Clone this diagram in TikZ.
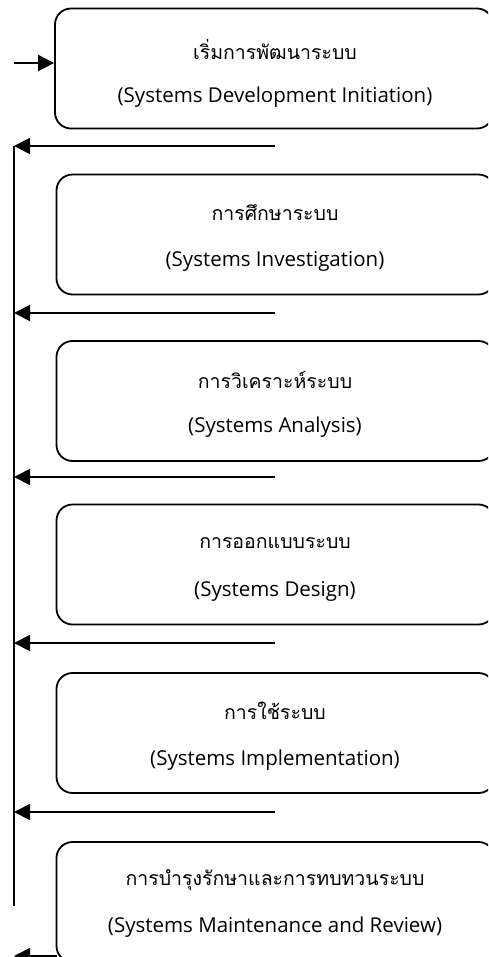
\documentclass[tikz,border=0pt]{standalone}
\usepackage{fontspec}
\setmainfont{Open Sans}
\newfontfamily\thaifont[Script=Thai]{Loma}
\usetikzlibrary{arrows.meta}
\tikzset{
  stagebox/.style={draw, line width=1.8pt, rounded corners=16pt, minimum width=438pt, minimum height=120pt, inner sep=0pt},
  th/.style={font=\thaifont\fontsize{19.5}{22}\selectfont, inner sep=0pt, anchor=center},
  en/.style={font=\fontsize{20.5}{23}\selectfont, inner sep=0pt, anchor=center},
  flow/.style={line width=1.8pt, -{Triangle[length=16pt,width=16pt]}},
  plain/.style={line width=1.8pt}
}
\begin{document}
\begin{tikzpicture}[x=1pt,y=1pt]
\useasboundingbox (0,0) rectangle (488,-957);
\clip (0,0) rectangle (488,-957);
% boxes
\node[stagebox] (b1) at (274,-68.5) {};
\node[stagebox] (b2) at (275.5,-234.5) {};
\node[stagebox] (b3) at (275.5,-401) {};
\node[stagebox] (b4) at (275.5,-564.5) {};
\node[stagebox] (b5) at (275.5,-733) {};
\node[stagebox] (b6) at (275.5,-902) {};
% texts
\node[th] (t1) at (275,-50) {เริ่มการพัฒนาระบบ};
\node[en] (e1) at (275,-97) {(Systems Development Initiation)};
\node[th] (t2) at (275,-213) {การศึกษาระบบ};
\node[en] (e2) at (275,-261) {(Systems Investigation)};
\node[th] (t3) at (275,-380) {การวิเคราะห์ระบบ};
\node[en] (e3) at (275,-427) {(Systems Analysis)};
\node[th] (t4) at (275,-543) {การออกแบบระบบ};
\node[en] (e4) at (275,-591) {(Systems Design)};
\node[th] (t5) at (275,-711) {การใช้ระบบ};
\node[en] (e5) at (275,-760) {(Systems Implementation)};
\node[th] (t6) at (275,-880) {การบำรุงรักษาและการทบทวนระบบ};
\node[en] (e6) at (275,-927) {(Systems Maintenance and Review)};
% coordinates
\coordinate (in) at (14,-63);
\coordinate (vtop) at (14,-146);
\coordinate (vbot) at (14,-906);
\coordinate (r1) at (275,-146);
\coordinate (r2) at (275,-313);
\coordinate (r3) at (275,-477);
\coordinate (r4) at (275,-643);
\coordinate (r5) at (275,-812);
\coordinate (l1) at (14,-146);
\coordinate (l2) at (14,-313);
\coordinate (l3) at (14,-477);
\coordinate (l4) at (14,-643);
\coordinate (l5) at (14,-812);
\coordinate (r6) at (57,-956);
\coordinate (l6) at (14,-956);
% connectors
\draw[flow] (in) -- (in -| b1.west);
\draw[plain] (vtop) -- (vbot);
\draw[flow] (r1) -- (l1);
\draw[flow] (r2) -- (l2);
\draw[flow] (r3) -- (l3);
\draw[flow] (r4) -- (l4);
\draw[flow] (r5) -- (l5);
\draw[flow] (r6) -- (l6);
\end{tikzpicture}
\end{document}
